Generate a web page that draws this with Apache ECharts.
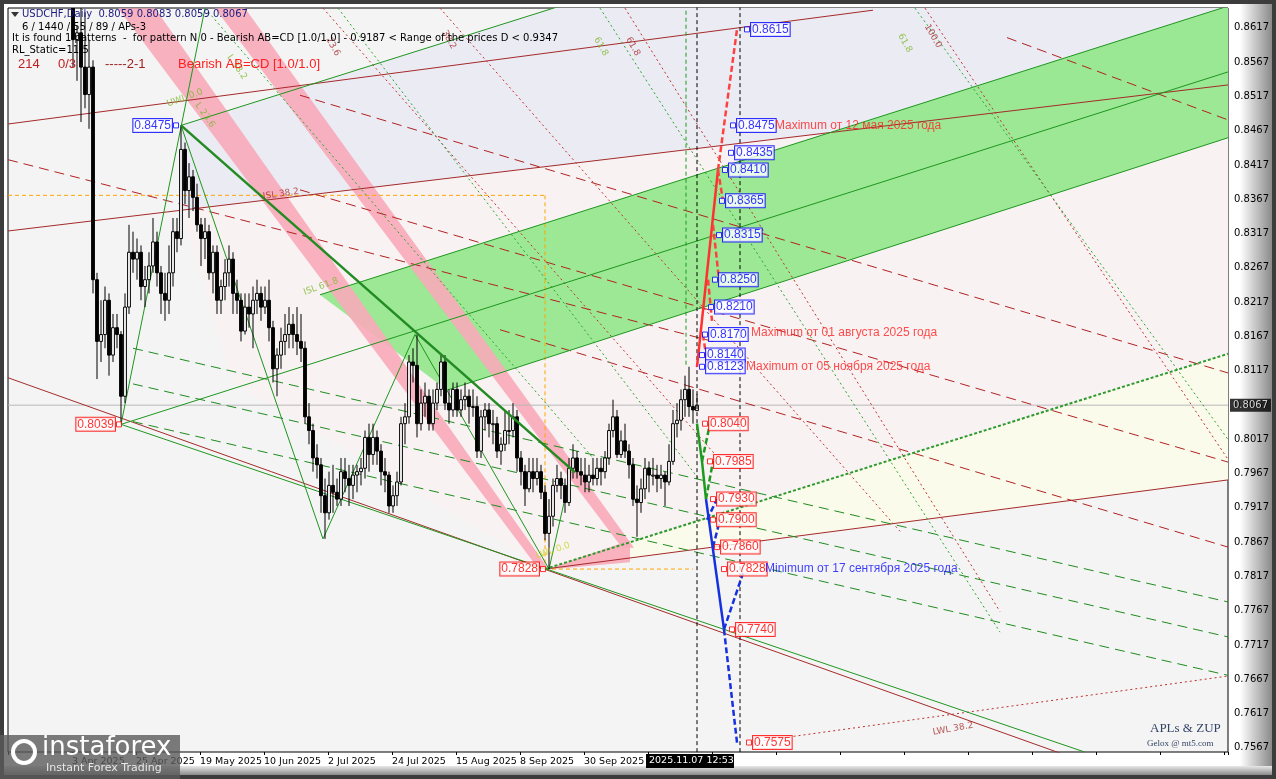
<!DOCTYPE html>
<html>
<head>
<meta charset="utf-8">
<script src="https://cdn.jsdelivr.net/npm/echarts@6/dist/echarts.min.js"></script>
<style>
html,body{margin:0;padding:0;background:#4a4a4a;}
#main{width:1276px;height:779px;}
</style>
</head>
<body>
<div id="main"></div>
<script>
var chartDom = document.getElementById('main');
var myChart = echarts.init(chartDom);
var option;

// bar index 0 = 3 Apr 2025, 156 = 7 Nov 2025; prices in pips (x 0.0001)
var candles = [
[8700,8760,8560,8600],[8600,8620,8540,8610],[8610,8660,8480,8560],[8560,8640,8500,8520],[8520,8600,8470,8560],
[8560,8570,8230,8250],[8250,8260,8105,8160],[8160,8220,8130,8170],[8170,8240,8150,8220],[8220,8230,8110,8140],
[8140,8200,8130,8180],[8180,8200,8150,8170],[8170,8175,8039,8080],[8080,8230,8070,8210],[8210,8330,8200,8290],
[8290,8320,8260,8280],[8280,8310,8250,8290],[8290,8300,8220,8240],[8240,8270,8210,8250],[8250,8290,8230,8270],
[8270,8340,8260,8305],[8305,8320,8240,8260],[8260,8270,8200,8230],[8230,8260,8190,8220],[8220,8300,8200,8260],
[8260,8340,8240,8320],[8320,8340,8290,8310],[8310,8475,8300,8440],[8440,8450,8360,8380],[8380,8420,8340,8400],
[8400,8410,8350,8370],[8370,8390,8320,8330],[8330,8340,8270,8310],[8310,8340,8280,8320],[8320,8330,8250,8260],
[8260,8300,8230,8290],[8290,8300,8200,8220],[8220,8250,8200,8240],[8240,8280,8220,8260],[8260,8300,8240,8280],
[8280,8290,8200,8230],[8230,8250,8200,8220],[8220,8230,8160,8175],[8175,8230,8170,8210],[8210,8230,8180,8200],
[8200,8240,8150,8220],[8220,8250,8200,8230],[8230,8240,8190,8210],[8210,8240,8200,8220],[8220,8250,8160,8180],
[8180,8190,8100,8120],[8120,8150,8080,8140],[8140,8180,8120,8160],[8160,8200,8140,8170],[8170,8210,8150,8185],
[8185,8200,8150,8170],[8170,8210,8140,8160],[8160,8200,8130,8150],[8150,8160,8040,8050],[8050,8070,8010,8030],
[8030,8040,7970,7990],[7990,8010,7960,7980],[7980,7990,7910,7935],[7935,7960,7872,7910],[7910,7970,7900,7950],
[7950,7980,7910,7940],[7940,7960,7920,7930],[7930,7990,7920,7970],[7970,7990,7940,7960],[7960,7980,7920,7950],
[7950,7980,7930,7965],[7965,7980,7940,7970],[7970,7990,7950,7975],[7975,8030,7960,8020],[8020,8040,7970,7995],
[7995,8040,7980,8020],[8020,8030,7980,8000],[8000,8010,7950,7970],[7970,7990,7940,7965],[7965,7970,7910,7920],
[7920,7950,7910,7935],[7935,7970,7920,7955],[7955,8050,7950,8040],[8040,8070,8010,8050],[8050,8140,8040,8130],
[8130,8150,8100,8125],[8125,8170,8020,8040],[8040,8090,8030,8070],[8070,8100,8050,8080],[8080,8090,8030,8040],
[8040,8090,8030,8070],[8070,8100,8060,8090],[8090,8140,8080,8130],[8130,8140,8060,8070],[8070,8090,8040,8060],
[8060,8100,8050,8090],[8090,8100,8050,8060],[8060,8090,8050,8075],[8075,8100,8060,8080],[8080,8090,8040,8065],
[8065,8090,8050,8065],[8065,8080,7990,8000],[8000,8060,7990,8050],[8050,8070,8030,8060],[8060,8070,8020,8040],
[8040,8060,8010,8040],[8040,8050,7990,8000],[8000,8020,7980,8010],[8010,8060,8000,8030],[8030,8060,8010,8030],
[8030,8070,8020,8050],[8050,8060,7970,7990],[7990,8000,7950,7970],[7970,7980,7920,7945],[7945,7990,7940,7970],
[7970,7990,7940,7960],[7960,7990,7950,7970],[7970,7980,7930,7940],[7940,7950,7870,7880],[7880,7930,7828,7905],
[7905,7960,7890,7950],[7950,7980,7940,7960],[7960,7970,7930,7950],[7950,7960,7910,7925],[7925,7990,7920,7975],
[7975,8010,7960,7990],[7990,8000,7960,7970],[7970,7990,7950,7965],[7965,7990,7940,7955],[7955,7980,7940,7965],
[7965,7990,7950,7960],[7960,7990,7950,7975],[7975,7990,7950,7970],[7970,8000,7960,7990],[7990,8040,7980,8030],
[8030,8075,8020,8050],[8050,8060,7990,7995],[7995,8030,7990,8015],[8015,8040,7990,8000],[8000,8010,7960,7980],
[7980,7990,7920,7930],[7930,7950,7875,7925],[7925,7960,7910,7945],[7945,7990,7930,7975],[7975,7985,7940,7965],
[7965,7990,7950,7965],[7965,7980,7940,7960],[7960,7980,7945,7965],[7965,7970,7920,7955],[7955,8010,7950,7985],
[7985,8060,7980,8040],[8040,8070,8020,8045],[8045,8090,8030,8075],[8075,8110,8050,8090],[8090,8123,8050,8065],
[8065,8090,8040,8060],[8059,8083,8059,8067]
];

var xTicks = {0:'3 Apr 2025',16:'25 Apr 2025',32:'19 May 2025',48:'10 Jun 2025',64:'2 Jul 2025',80:'24 Jul 2025',
  96:'15 Aug 2025',112:'8 Sep 2025',128:'30 Sep 2025',144:'22 Oct 2025'};
var lastPrice = 0.8067;

// regions [bar, price]
var lavender = [[27,0.8475],[121.75,0.8649],[288.75,0.8649],[288.75,0.8534],[27,0.8351]];
var pinkZone = [[27,0.8351],[288.75,0.8534],[288.75,0.8142],[118,0.7828],[40,0.8100]];
var yellowZone = [[118,0.7828],[288.75,0.8142],[288.75,0.7958]];
var greenBand = [[61.75,0.8228],[288.75,0.8649],[288.75,0.8457],[93.5,0.8089]];
var ribbonA = [[11.25,0.8646],[20.5,0.8646],[118.75,0.7829],[116.25,0.7829]];
var ribbonB = [[35.5,0.8646],[43,0.8646],[140.25,0.7859],[137.25,0.7859]];
var ribbonC = [[118,0.7827],[139.25,0.7870],[139.25,0.7838]];

var redSolid = [
  [[-16.25,0.8477],[166,0.8617],[200,0.8643]],
  [[-16.25,0.8321],[288.75,0.8534]],
  [[-16.25,0.8107],[254.25,0.7544]],
  [[118,0.7828],[288.75,0.7958]]
];
var redDashed = [
  [[233.5,0.8603],[288.75,0.8483]],
  [[56.75,0.8519],[288.75,0.8114]],
  [[56.75,0.8381],[288.75,0.7984]],
  [[106.75,0.8177],[288.75,0.7860]],
  [[-16.25,0.8425],[160,0.8160]]
];
var redDotted = [
  [[62.5,0.8646],[161.75,0.7987]],
  [[91.75,0.8646],[206.75,0.7883]],
  [[138,0.8646],[231.75,0.7766]],
  [[213,0.8646],[288.75,0.7988]],
  [[169,0.7575],[288.75,0.7672]]
];
var greenSolid = [
  [[27,0.8475],[121.75,0.8649]],
  [[12,0.8039],[33,0.8646]],
  [[12,0.8039],[288.75,0.8553]],
  [[61.75,0.8228],[288.75,0.8649]],
  [[93.5,0.8089],[288.75,0.8457]],
  [[12,0.8039],[253,0.7561]],
  [[27,0.8475],[62.5,0.7872],[85.5,0.8170],[119,0.7828],[124.5,0.7970]]
];
var greenThick = [[27,0.8475],[125.5,0.7969]];
var greenHeavyDash = [[118,0.7828],[288.75,0.8142]];
var greenDashed = [
  [[15,0.8150],[288.75,0.7780]],
  [[15,0.8098],[288.75,0.7729]],
  [[15,0.8043],[288.75,0.7673]]
];
var greenDotted = [
  [[66.25,0.8646],[156.75,0.7957]],
  [[131.75,0.8646],[231.75,0.7736]],
  [[210.5,0.8646],[288.75,0.8017]],
  [[33,0.8646],[130,0.7990]]
];

// projection
var upSolid = [[156,0.8123],[161.25,0.8410]];
var upDashed = [[[161.25,0.8410],[166,0.8615]],[[161.25,0.8410],[162.5,0.8365]],[[160,0.8330],[161.5,0.8250]],
  [[158.75,0.8250],[159.75,0.8190]],[[157.5,0.8170],[158.5,0.8130]]];
var greenDown = [[156,0.8040],[157.25,0.7985],[158.25,0.7930]];
var greenDownDash = [[[157.25,0.7985],[159.25,0.8040]],[[158.25,0.7930],[160,0.7985]]];
var blueDown = [[158.25,0.7930],[162.75,0.7740]];
var blueDownDash = [[[162.75,0.7740],[166,0.7575]],[[158.5,0.7900],[161,0.7930]],[[160,0.7860],[161.75,0.7900]],
  [[162.75,0.7740],[167.5,0.7822]]];

var blueLevels = [[168.5,0.8615],[165,0.8475],[164.5,0.8435],[163,0.8410],[162.25,0.8365],[161.5,0.8315],
  [160.5,0.8250],[159.5,0.8210],[158,0.8170],[157.25,0.8140],[157.25,0.8123]];
var redLevels = [[158,0.8040],[159.25,0.7985],[160,0.7930],[160,0.7900],[161,0.7860],[162.75,0.7828],[164.75,0.7740],[169,0.7575]];
var pivotBoxes = [[25.75,0.8475,'blue'],[11.5,0.8039,'red'],[117.5,0.7828,'red']];
var notes = [
  [175.5,0.8475,'Maximum от 12 мая 2025 года','#ff2020'],
  [169.5,0.8172,'Maximum от 01 августа 2025 года','#ff2020'],
  [168.25,0.8123,'Maximum от 05 ноября 2025 года','#ff2020'],
  [173,0.7828,'Minimum от 17 сентября 2025 года','#1010ff']
];
var fibTags = [
  [28,0.8515,'UWL 0.0','#7ab82a',20],[52,0.8375,'ISL 38.2','#a52a2a',8],[62,0.8240,'ISL 61.8','#7ab82a',20],
  [120,0.7855,'LWL 0.0','#c8d820',18],[220,0.7595,'LWL 38.2','#a52a2a',10],[41,0.8560,'L 38.2','#7ab82a',-55],
  [33,0.8490,'L 23.6','#7ab82a',-55],[65,0.8590,'23.6','#a52a2a',-60],[94,0.8600,'38.2','#a52a2a',-60],
  [132,0.8590,'61.8','#7ab82a',-60],[140,0.8590,'61.8','#a52a2a',-60],[215,0.8605,'100.0','#a52a2a',-60],[208,0.8595,'61.8','#7ab82a',-60]
];

function line(pts, color, width, type, z) {
  return { type: 'line', data: pts, symbol: 'none', silent: true, z: z || 3, animation: false,
    lineStyle: { color: color, width: width, type: type || 'solid' } };
}
function poly(pts, color, z) {
  return { type: 'custom', clip: true, silent: true, z: z || 1, data: [[0, 0]], animation: false,
    renderItem: function (p, api) {
      return { type: 'polygon', shape: { points: pts.map(function (q) { return api.coord(q); }) }, style: { fill: color } };
    } };
}
function boxes(pts, color, pos) {
  return { type: 'scatter', z: 6, silent: true, symbol: 'rect', symbolSize: [5, 5], clip: false, animation: false,
    itemStyle: { color: '#fff', borderColor: color, borderWidth: 1 },
    data: pts.map(function (q) { return [q[0], q[1]]; }),
    label: { show: true, position: pos || 'right', distance: 1, formatter: function (p) { return p.value[1].toFixed(4); },
      color: color, fontFamily: 'Liberation Sans', fontSize: 12, backgroundColor: '#fff', borderColor: color,
      borderWidth: 1, padding: [1, 1, 0, 1] } };
}

var series = [
  poly(lavender, '#ebebf3'), poly(pinkZone, '#f8f2f3'), poly(yellowZone, '#fbfbeb'),
  poly(greenBand, 'rgba(140,230,130,0.85)', 2),
  poly(ribbonA, 'rgba(248,170,185,0.9)', 2), poly(ribbonB, 'rgba(248,170,185,0.9)', 2), poly(ribbonC, 'rgba(248,170,185,0.9)', 2),
  line([[-16.25, lastPrice], [288.75, lastPrice]], '#b8b8b8', 1),
  line([[-16.25, 0.8373], [118, 0.8373]], '#ffa500', 1, [4, 3]),
  line([[118, 0.8373], [118, 0.7828]], '#ffa500', 1, [4, 3]),
  line([[118, 0.7828], [155, 0.7828]], '#ffa500', 1, [4, 3]),
  line([[156, 0.7561], [156, 0.8649]], '#000', 1, [4, 3], 5),
  line([[166.75, 0.7561], [166.75, 0.8649]], '#000', 1, [4, 3], 5),
  line([[153.25, 0.8126], [153.25, 0.8649]], '#1a9a1a', 1, [4, 3], 5)
];
redSolid.forEach(function (l) { series.push(line(l, '#a52a2a', 1)); });
redDashed.forEach(function (l) { series.push(line(l, '#b22222', 1, [10, 6])); });
redDotted.forEach(function (l) { series.push(line(l, '#c03030', 1, [2, 3])); });
greenSolid.forEach(function (l) { series.push(line(l, '#1e961e', 1)); });
greenDashed.forEach(function (l) { series.push(line(l, '#1e8c1e', 1, [10, 6])); });
greenDotted.forEach(function (l) { series.push(line(l, '#2aa52a', 1, [2, 3])); });
series.push(line(greenThick, '#228b22', 2.5, 'solid', 5));
series.push(line(greenHeavyDash, '#2e9a2e', 2, [3, 2], 4));

series.push({
  type: 'custom', z: 4, clip: true, silent: true, animation: false,
  data: candles.map(function (c, i) { return [i, c[0] / 1e4, c[1] / 1e4, c[2] / 1e4, c[3] / 1e4]; }),
  renderItem: function (p, api) {
    var x = api.value(0), o = api.value(1), h = api.value(2), l = api.value(3), c = api.value(4);
    var top = api.coord([x, h]), bot = api.coord([x, l]);
    var po = api.coord([x, o]), pc = api.coord([x, c]);
    var w = api.size([1, 0])[0] * 0.7;
    var y0 = Math.min(po[1], pc[1]), hh = Math.max(Math.abs(po[1] - pc[1]), 1);
    return { type: 'group', children: [
      { type: 'line', shape: { x1: top[0], y1: top[1], x2: bot[0], y2: bot[1] }, style: { stroke: '#000', lineWidth: 1 } },
      { type: 'rect', shape: { x: top[0] - w / 2, y: y0, width: w, height: hh },
        style: { fill: c >= o ? '#fff' : '#000', stroke: '#000', lineWidth: 1 } }
    ] };
  }
});

series.push(line(upSolid, '#ff3030', 2.5, 'solid', 5));
upDashed.forEach(function (l) { series.push(line(l, '#ff4040', 2.5, [6, 3], 5)); });
series.push(line(greenDown, '#1e9a1e', 2.5, 'solid', 5));
greenDownDash.forEach(function (l) { series.push(line(l, '#1e9a1e', 2.5, [6, 3], 5)); });
series.push(line(blueDown, '#1530e0', 2.5, 'solid', 5));
blueDownDash.forEach(function (l) { series.push(line(l, '#1530e0', 2.5, [6, 3], 5)); });

series.push(boxes(blueLevels, '#0000ff'));
series.push(boxes(redLevels, '#ff0000'));
pivotBoxes.forEach(function (b) { series.push(boxes([b], b[2], 'left')); });

series.push({
  type: 'scatter', z: 6, silent: true, symbolSize: 0, clip: false, animation: false,
  data: notes.map(function (n) { return { value: [n[0], n[1]], label: { color: n[3] } }; }),
  label: { show: true, position: 'right', distance: 0, fontFamily: 'Liberation Sans', fontSize: 12,
    formatter: function (p) { return notes[p.dataIndex][2]; } }
});
series.push({
  type: 'scatter', z: 6, silent: true, symbolSize: 0, animation: false,
  data: fibTags.map(function (n) { return { value: [n[0], n[1]], label: { color: n[3], rotate: n[4] } }; }),
  label: { show: true, position: 'inside', fontFamily: 'DejaVu Sans', fontSize: 9,
    formatter: function (p) { return fibTags[p.dataIndex][2]; } }
});
series.push({
  type: 'scatter', z: 7, silent: true, symbolSize: 0, clip: false, animation: false,
  data: [[288.75, lastPrice]],
  label: { show: true, position: 'right', distance: 2, formatter: lastPrice.toFixed(4), color: '#fff',
    backgroundColor: '#000', fontFamily: 'DejaVu Sans', fontSize: 10, padding: [2, 3, 1, 3] }
});

option = {
  backgroundColor: '#fff',
  animation: false,
  grid: { left: 8, right: 48, top: 8, bottom: 27, show: true, backgroundColor: '#f4f4f4', borderColor: '#000', borderWidth: 1 },
  xAxis: {
    type: 'value', min: -16.25, max: 288.75, interval: 16,
    axisLine: { show: false }, splitLine: { show: false },
    axisTick: { show: true, length: 3, lineStyle: { color: '#000' } },
    axisLabel: { color: '#000', fontFamily: 'DejaVu Sans', fontSize: 9.5, align: 'left', margin: 5,
      formatter: function (v) { return xTicks[Math.round(v)] || ''; } }
  },
  yAxis: {
    type: 'value', position: 'right', min: 0.75612, max: 0.86462, interval: 0.0001,
    axisLine: { show: false }, splitLine: { show: false }, axisTick: { show: false },
    axisLabel: { color: '#000', fontFamily: 'DejaVu Sans', fontSize: 10, margin: 6,
      formatter: function (v) { var k = Math.round(v * 10000); return (k - 7567) % 50 === 0 ? (k / 10000).toFixed(4) : ''; } }
  },
  graphic: [
    { type: 'rect', z: -10, shape: { x: 0, y: 0, width: 1276, height: 779 }, style: { fill: '#3c3c3c' } },
    { type: 'rect', z: -9, shape: { x: 4, y: 4, width: 1236, height: 767 }, style: { fill: '#fff' } },
    { type: 'rect', z: -9, shape: { x: 1240, y: 4, width: 32, height: 767 },
      style: { fill: new echarts.graphic.LinearGradient(0, 0, 1, 0, [{ offset: 0, color: '#fff' }, { offset: 1, color: '#8a8a8a' }]) } },
    { type: 'rect', z: -9, shape: { x: 4, y: 766, width: 1268, height: 9 },
      style: { fill: new echarts.graphic.LinearGradient(0, 0, 0, 1, [{ offset: 0, color: '#e8e8e8' }, { offset: 1, color: '#8a8a8a' }]) } },
    { type: 'text', z: 50, left: 22, top: 9, style: { text: 'USDCHF,Daily  0.8059 0.8083 0.8059 0.8067', fill: '#1a1a80', font: '10px "DejaVu Sans"' } },
    { type: 'polygon', z: 50, shape: { points: [[11, 12], [19, 12], [15, 17]] }, style: { fill: '#333' } },
    { type: 'text', z: 50, left: 22, top: 22, style: { text: '6 / 1440 / 55 / 89 / APs-3', fill: '#000', font: '10px "DejaVu Sans"' } },
    { type: 'text', z: 50, left: 12, top: 33, style: { text: 'It is found 1 patterns  -  for pattern N 0 - Bearish AB=CD [1.0/1.0] - 0.9187 < Range of the prices D < 0.9347', fill: '#000', font: '10px "DejaVu Sans"' } },
    { type: 'text', z: 50, left: 12, top: 45, style: { text: 'RL_Static=11.5', fill: '#000', font: '10px "DejaVu Sans"' } },
    { type: 'text', z: 50, left: 18, top: 58, style: { text: '214', fill: '#c02020', font: '13px "Liberation Sans"' } },
    { type: 'text', z: 50, left: 58, top: 58, style: { text: '0/3', fill: '#c02020', font: '13px "Liberation Sans"' } },
    { type: 'text', z: 50, left: 105, top: 58, style: { text: '-----2-1', fill: '#a02020', font: '13px "Liberation Sans"' } },
    { type: 'text', z: 50, left: 178, top: 58, style: { text: 'Bearish AB=CD [1.0/1.0]', fill: '#ff2020', font: '13px "Liberation Sans"' } },
    { type: 'text', z: 50, left: 1150, top: 722, style: { text: 'APLs & ZUP', fill: '#334466', font: '13px "Liberation Serif"' } },
    { type: 'text', z: 50, left: 1147, top: 739, style: { text: 'Gelox @ mt5.com', fill: '#334466', font: '9px "Liberation Serif"' } },
    { type: 'rect', z: 50, shape: { x: 646, y: 754, width: 88, height: 14 }, style: { fill: '#000' } },
    { type: 'text', z: 51, left: 649, top: 756, style: { text: '2025.11.07 12:53', fill: '#fff', font: '9.5px "DejaVu Sans"' } },
    { type: 'rect', z: 60, shape: { x: 0, y: 735, width: 180, height: 44 }, style: { fill: 'rgba(90,90,90,0.8)' } },
    { type: 'circle', z: 61, shape: { cx: 24, cy: 752, r: 11 }, style: { fill: 'none', stroke: '#fff', lineWidth: 4 } },
    { type: 'text', z: 61, left: 42, top: 735, style: { text: 'instaforex', fill: '#fff', font: '26px "DejaVu Sans"' } },
    { type: 'text', z: 61, left: 46, top: 763, style: { text: 'Instant Forex Trading', fill: '#e8e8e8', font: '11px "DejaVu Sans"' } }
  ],
  series: series
};

myChart.setOption(option);
</script>
</body>
</html>
